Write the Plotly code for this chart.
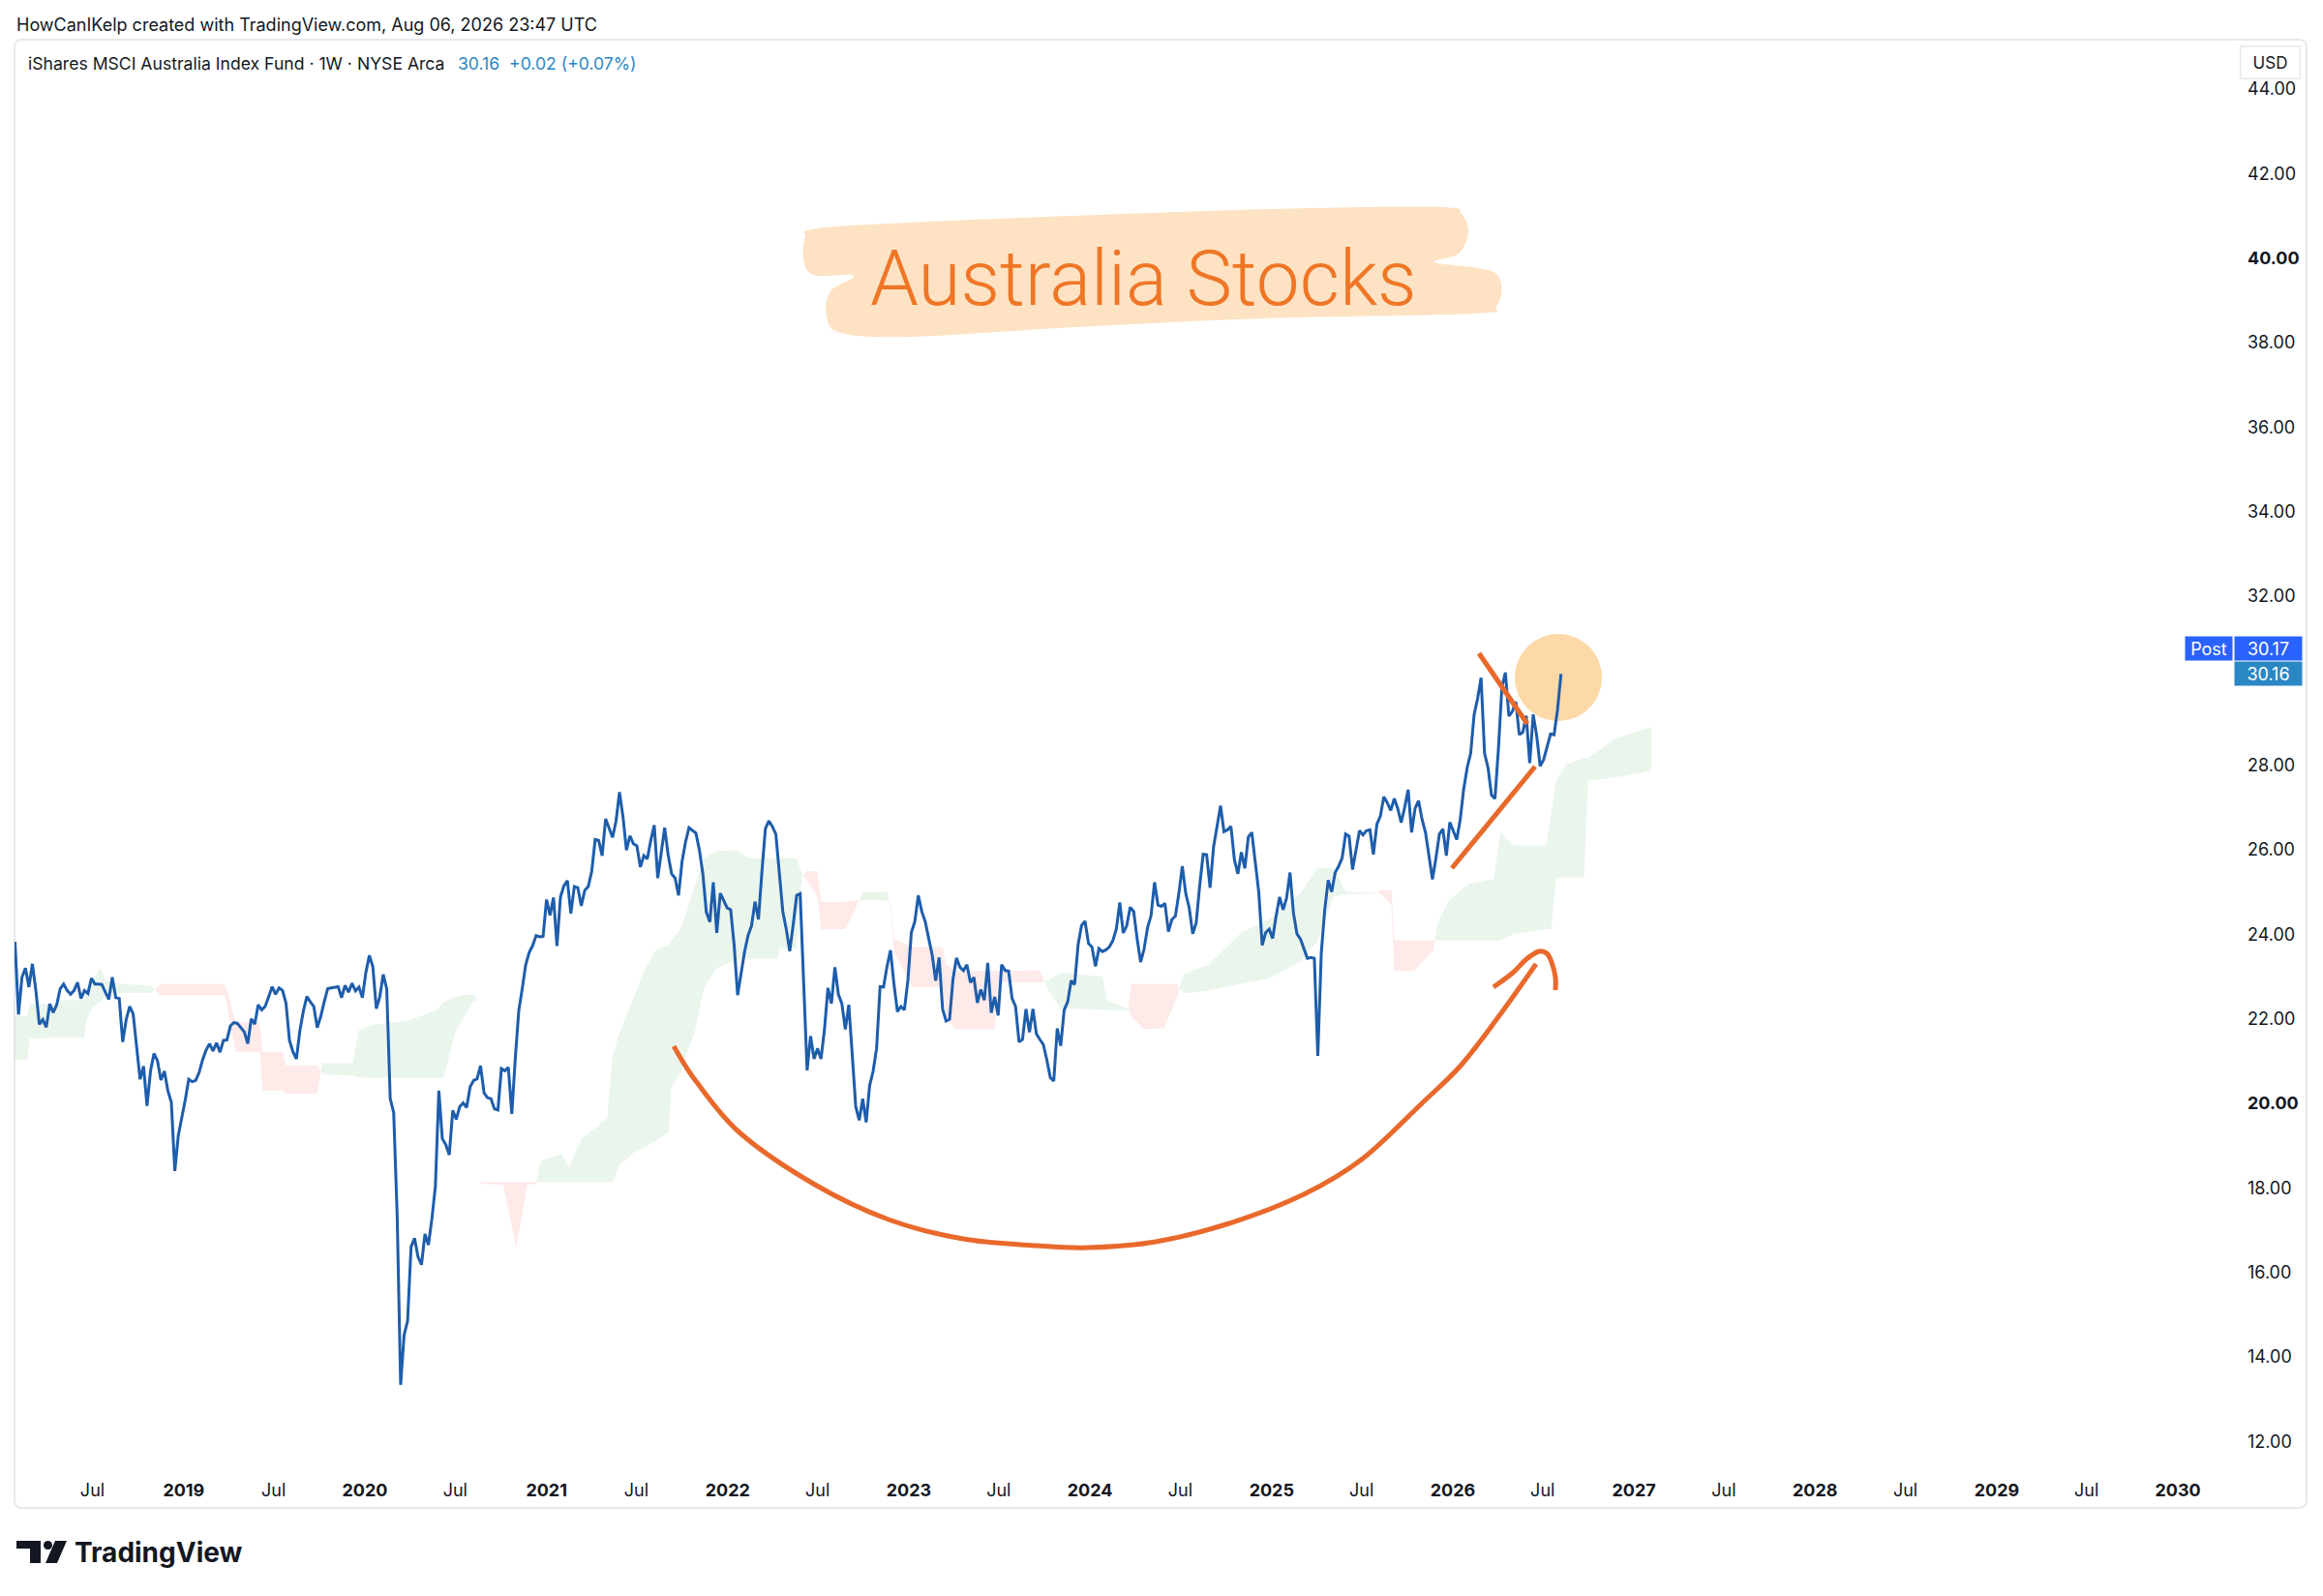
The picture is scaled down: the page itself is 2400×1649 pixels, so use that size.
import pandas as pd
import plotly.graph_objects as go

# ---------------- data ----------------
START = "2018-01-26"          # first weekly bar (Friday close)

closes_2018 = [23.82, 22.10, 22.98, 23.20, 22.75, 23.30, 22.67, 21.87, 21.98, 21.80,
               22.35, 22.15, 22.33, 22.71, 22.82, 22.67, 22.58, 22.67, 22.86, 22.48,
               22.67, 22.60, 22.96, 22.82, 22.82, 22.81, 22.63, 22.46, 22.98, 22.50,
               22.48, 21.45, 21.98, 22.29, 22.12, 21.37, 20.57, 20.88, 19.94, 20.76,
               21.18, 21.01, 20.55, 20.76, 20.30, 20.02, 18.40, 19.24, 19.62]
closes_2019 = [20.08, 20.57, 20.51, 20.54, 20.73, 21.03, 21.26, 21.41, 21.24, 21.43,
               21.21, 21.49, 21.50, 21.83, 21.91, 21.89, 21.79, 21.69, 21.41, 22.00,
               21.87, 22.33, 22.21, 22.29, 22.52, 22.76, 22.58, 22.73, 22.67, 22.37,
               21.49, 21.22, 21.05, 21.72, 22.18, 22.53, 22.40, 22.29, 21.79, 22.06,
               22.40, 22.71, 22.73, 22.75, 22.76, 22.50, 22.79, 22.63, 22.84, 22.66,
               22.75, 22.50]
closes_2020 = [23.10, 23.50, 23.23, 22.24, 22.52, 23.05, 22.71, 20.11, 19.78, 17.36,
               13.34, 14.52, 14.85, 16.60, 16.81, 16.37, 16.18, 16.91, 16.65, 17.27,
               18.03, 20.30, 19.16, 19.02, 18.78, 19.83, 19.62, 19.92, 20.01, 19.90,
               20.39, 20.54, 20.58, 20.89, 20.25, 20.13, 20.11, 19.87, 19.84, 20.82,
               20.77, 20.85, 19.75, 21.06, 22.19, 22.71, 23.28, 23.57, 23.73, 23.97,
               23.94, 23.95]
closes_2021 = [24.82, 24.45, 24.87, 23.72, 24.88, 25.15, 25.27, 24.49, 25.13, 25.10,
               24.67, 25.04, 25.13, 25.49, 26.24, 26.22, 25.86, 26.73, 26.52, 26.29,
               26.68, 27.36, 26.78, 25.99, 26.33, 26.14, 26.09, 25.59, 25.86, 25.78,
               26.22, 26.58, 25.33, 25.95, 26.52, 25.88, 25.43, 25.33, 24.92, 25.72,
               26.18, 26.52, 26.45, 26.39, 25.99, 25.42, 24.52, 24.29, 25.23, 24.03,
               24.97, 24.81, 24.62]
closes_2022 = [24.58, 23.74, 22.56, 23.13, 23.59, 23.97, 24.20, 24.77, 24.35, 25.49,
               26.50, 26.68, 26.55, 26.37, 25.49, 24.54, 24.12, 23.60, 24.23, 24.92,
               24.96, 22.75, 20.78, 21.59, 21.05, 21.30, 21.05, 21.75, 22.73, 22.36,
               23.22, 22.58, 22.36, 21.75, 22.33, 21.14, 19.92, 19.60, 20.11, 19.55,
               20.42, 20.76, 21.30, 22.76, 22.75, 23.24, 23.62, 22.82, 22.17, 22.29,
               22.21, 22.90]
closes_2023 = [24.04, 24.30, 24.92, 24.54, 24.30, 23.90, 23.51, 22.90, 23.45, 22.23,
               21.95, 21.99, 22.94, 23.44, 23.22, 23.14, 23.28, 22.86, 22.98, 22.38,
               22.69, 22.44, 23.32, 22.14, 22.52, 22.08, 23.28, 23.14, 23.13, 22.48,
               22.29, 21.45, 21.51, 22.23, 21.68, 22.23, 21.64, 21.51, 21.39, 21.03,
               20.61, 20.53, 21.77, 21.36, 22.21, 22.40, 22.90, 22.81, 23.75, 24.21,
               24.31, 23.78]
closes_2024 = [23.70, 23.24, 23.66, 23.59, 23.63, 23.70, 23.85, 24.12, 24.75, 24.03,
               24.20, 24.64, 24.54, 23.89, 23.34, 23.65, 24.16, 24.44, 25.23, 24.69,
               24.66, 24.73, 24.06, 24.35, 24.43, 24.96, 25.61, 24.96, 24.62, 24.01,
               24.27, 25.15, 25.89, 25.88, 25.10, 26.07, 26.60, 27.04, 26.43, 26.47,
               26.55, 25.76, 25.43, 25.94, 25.56, 26.30, 26.41, 25.69, 25.00, 23.74,
               24.04, 24.12]
closes_2025 = [23.90, 24.43, 24.88, 24.58, 24.85, 25.46, 24.50, 24.01, 23.89, 23.66,
               23.43, 23.45, 23.43, 21.12, 23.55, 24.58, 25.28, 25.00, 25.46, 25.61,
               25.80, 26.37, 26.32, 25.53, 26.03, 26.45, 26.35, 26.45, 26.47, 25.89,
               26.60, 26.79, 27.25, 27.11, 26.93, 27.21, 26.98, 26.64, 27.00, 27.42,
               26.41, 26.98, 27.16, 26.72, 26.41, 25.80, 25.30, 25.80, 26.37, 26.49,
               25.86, 26.65]
closes_2026 = [26.45, 26.24, 26.72, 27.44, 27.94, 28.28, 29.20, 29.58, 30.07, 28.28,
               27.94, 27.29, 27.21, 28.40, 29.86, 30.19, 29.16, 29.27, 29.50, 28.72,
               28.78, 29.17, 28.05, 29.20, 28.70, 27.98, 28.13, 28.47, 28.74, 28.72,
               29.31, 30.16]

# Ichimoku cloud (leading spans), positions in weeks from START
cloud_week = [0, 3.5, 4.2, 12, 12.1, 19.9, 20.5, 22.5, 24.6, 26, 28, 39, 42, 60.3, 61, 63.5,
              70.5, 71.2, 77, 78, 87, 88.5, 97.2, 98.9, 102.5, 112.8, 121.2, 123.4, 126.8,
              129.6, 132.3, 133.3, 134, 140.5, 144.3, 147.5, 150, 151, 151.9, 157.4, 159.4,
              163, 166.6, 170.5, 172, 174.1, 178.9, 180.6, 184.4, 188.1, 188.9, 191.7, 195.6,
              198.4, 202, 207.6, 211.2, 219.6, 220, 224.9, 226.5, 227.6, 231, 232, 239, 242.5,
              244, 251, 252, 253, 258.3, 267, 268, 270.8, 282, 283, 295, 297.3, 300.9, 313,
              314.3, 320.4, 321.3, 325.2, 330.7, 334.4, 336.3, 343.5, 353, 360.8, 370, 374.8,
              379.5, 383.1, 391.5, 393, 396.2, 397, 402.6, 408.2, 409.5, 412.8, 418.4, 425.6,
              427.6, 431.2, 440.7, 442.2, 443.6, 446.4, 451.6, 452.8, 460.5, 471]
span_a = [22.06, 22.06, 22.35, 22.35, 22.44, 22.44, 22.6, 22.95, 23.21, 22.9,
          22.84, 22.78, 22.56, 22.56, 22.3, 21.22, 21.22, 20.3, 20.3, 20.23,
          20.23, 20.95, 20.95, 21.72, 21.85, 21.95, 22.2, 22.4, 22.52, 22.57,
          22.57, 22.4, 18.1, 18.07, 16.6, 18.07, 18.1, 18.55, 18.66, 18.81,
          18.47, 19.16, 19.39, 19.65, 21.14, 21.68, 22.67, 23.05, 23.62, 23.74,
          23.85, 24.12, 25.11, 25.8, 25.97, 25.99, 25.8, 25.8, 25.8, 25.8,
          25.45, 25.3, 24.9, 24.12, 24.12, 24.7, 25.0, 25.0, 24.6, 23.58,
          22.75, 22.75, 21.98, 21.75, 21.75, 22.86, 22.86, 22.9, 23.09, 23.0,
          22.44, 22.25, 22.06, 21.75, 21.78, 22.5, 23.05, 23.28, 24.04, 24.35,
          24.96, 25.57, 25.57, 25.0, 25.0, 24.96, 24.69, 23.13, 23.13, 23.6,
          24.27, 24.81, 25.19, 25.3, 26.41, 26.1, 26.1, 26.87, 27.63, 28.01,
          28.17, 28.17, 28.62, 28.9]
span_b = [21.03, 21.03, 21.53, 21.56, 21.56, 21.56, 21.95, 22.3, 22.4, 22.58,
          22.61, 22.61, 22.82, 22.82, 22.7, 21.91, 21.91, 21.22, 21.22, 20.9,
          20.9, 20.69, 20.65, 20.62, 20.6, 20.6, 20.6, 20.62, 21.7, 22.1,
          22.45, 22.4, 18.14, 18.14, 18.14, 18.14, 18.14, 18.14, 18.13, 18.13,
          18.13, 18.13, 18.13, 18.13, 18.13, 18.55, 18.89, 18.93, 19.12, 19.31,
          20.38, 20.76, 21.68, 22.75, 23.2, 23.4, 23.43, 23.43, 23.66, 23.66,
          25.35, 25.49, 25.49, 24.77, 24.77, 24.8, 24.8, 24.8, 24.77, 23.89,
          23.7, 23.7, 23.28, 23.13, 23.13, 23.13, 23.15, 22.7, 22.25, 22.21,
          22.21, 22.2, 22.82, 22.82, 22.82, 22.82, 22.6, 22.67, 22.83, 22.95,
          23.36, 23.82, 24.88, 24.95, 24.96, 25.04, 25.04, 23.85, 23.85, 23.85,
          23.85, 23.85, 23.85, 23.85, 23.85, 24.0, 24.12, 24.12, 25.34, 25.34,
          25.34, 27.63, 27.71, 27.87]

x_tick_dates = ["2018-07-01", "2019-01-01", "2019-07-01", "2020-01-01", "2020-07-01",
                "2021-01-01", "2021-07-01", "2022-01-01", "2022-07-01", "2023-01-01",
                "2023-07-01", "2024-01-01", "2024-07-01", "2025-01-01", "2025-07-01",
                "2026-01-01", "2026-07-01", "2027-01-01", "2027-07-01", "2028-01-01",
                "2028-07-01", "2029-01-01", "2029-07-01", "2030-01-01"]
x_tick_text = ["Jul", "<b>2019</b>", "Jul", "<b>2020</b>", "Jul", "<b>2021</b>", "Jul",
               "<b>2022</b>", "Jul", "<b>2023</b>", "Jul", "<b>2024</b>", "Jul",
               "<b>2025</b>", "Jul", "<b>2026</b>", "Jul", "<b>2027</b>", "Jul",
               "<b>2028</b>", "Jul", "<b>2029</b>", "Jul", "<b>2030</b>"]
# the 30.00 level sits under the last-price labels, so it is not listed
y_tick_vals = [12, 14, 16, 18, 20, 22, 24, 26, 28, 32, 34, 36, 38, 40, 42, 44]
y_tick_text = ["<b>%.2f</b>" % v if v in (20, 40) else "%.2f" % v for v in y_tick_vals]

last_close = 30.16
post_price = 30.17
change_text = "+0.02 (+0.07%)"

# ---------------- styling ----------------
FONT = "Inter, Roboto, sans-serif"
TXT = "#131722"
LINE = "#1d5dac"
GREEN = "rgba(67,160,71,0.11)"
RED = "rgba(244,67,54,0.11)"
ORANGE = "#e8692b"
W, H = 2400, 1649
L, R, T, B = 15, 2307, 41, 1517


def px(x):
    return (x - L) / (R - L)


def py(y):
    return (B - y) / (B - T)


def smooth_path(points, closed=False):
    pts = [(px(x), py(y)) for x, y in points]
    n = len(pts)
    ext = ([pts[-1]] + pts + pts[:2]) if closed else ([pts[0]] + pts + [pts[-1]])
    d = "M%.5f,%.5f" % pts[0]
    segs = n if closed else n - 1
    for i in range(segs):
        p0, p1, p2, p3 = ext[i], ext[i + 1], ext[i + 2], ext[i + 3]
        c1 = (p1[0] + (p2[0] - p0[0]) / 6, p1[1] + (p2[1] - p0[1]) / 6)
        c2 = (p2[0] - (p3[0] - p1[0]) / 6, p2[1] - (p3[1] - p1[1]) / 6)
        d += " C%.5f,%.5f %.5f,%.5f %.5f,%.5f" % (c1 + c2 + p2)
    if closed:
        d += " Z"
    return d


start = pd.Timestamp(START)
closes = (closes_2018 + closes_2019 + closes_2020 + closes_2021 + closes_2022 +
          closes_2023 + closes_2024 + closes_2025 + closes_2026)
dates = pd.date_range(START, periods=len(closes), freq="7D")


def wdate(w):
    return start + pd.to_timedelta(w * 7, unit="D")


# ---- cloud polygons (split where the spans cross) ----
trip = list(zip(cloud_week, span_a, span_b))
pts = [trip[0]]
for (w0, a0, b0), (w1, a1, b1) in zip(trip[:-1], trip[1:]):
    d0, d1 = a0 - b0, a1 - b1
    if d0 * d1 < 0:
        t = d0 / (d0 - d1)
        wc, vc = w0 + t * (w1 - w0), a0 + t * (a1 - a0)
        pts.append((wc, vc, vc))
    pts.append((w1, a1, b1))

runs = []
for p, q in zip(pts[:-1], pts[1:]):
    s = (p[1] - p[2]) + (q[1] - q[2]) >= 0
    if runs and runs[-1][0] == s:
        runs[-1][1].append(q)
    else:
        runs.append([s, [p, q]])

fig = go.Figure()
for s, seg in runs:
    xs = [wdate(w) for w, _, _ in seg] + [wdate(w) for w, _, _ in seg[::-1]]
    ys = [a for _, a, _ in seg] + [b for _, _, b in seg[::-1]]
    fig.add_trace(go.Scatter(x=xs, y=ys, mode="lines", line=dict(width=0),
                             fill="toself", fillcolor=GREEN if s else RED,
                             hoverinfo="skip", showlegend=False))

fig.add_trace(go.Scatter(x=dates, y=closes, mode="lines",
                         line=dict(color=LINE, width=3), hoverinfo="skip",
                         showlegend=False))

# ---------------- drawings ----------------
shapes = []
# chart frame
r = 8
fx0, fx1, fy0, fy1 = 15, 2383, 41, 1558
frame = ("M%.5f,%.5f L%.5f,%.5f Q%.5f,%.5f %.5f,%.5f L%.5f,%.5f Q%.5f,%.5f %.5f,%.5f "
         "L%.5f,%.5f Q%.5f,%.5f %.5f,%.5f L%.5f,%.5f Q%.5f,%.5f %.5f,%.5f Z") % (
    px(fx0 + r), py(fy0), px(fx1 - r), py(fy0), px(fx1), py(fy0), px(fx1), py(fy0 + r),
    px(fx1), py(fy1 - r), px(fx1), py(fy1), px(fx1 - r), py(fy1),
    px(fx0 + r), py(fy1), px(fx0), py(fy1), px(fx0), py(fy1 - r),
    px(fx0), py(fy0 + r), px(fx0), py(fy0), px(fx0 + r), py(fy0))
shapes.append(dict(type="path", xref="paper", yref="paper", path=frame,
                   line=dict(color="#e6e8ee", width=2), layer="below"))

# peach circle (under the line)
cx, cy, cr = 1610, 700, 45
shapes.append(dict(type="circle", xref="paper", yref="paper", x0=px(cx - cr), x1=px(cx + cr),
                   y0=py(cy + cr), y1=py(cy - cr), fillcolor="#fdd9a8",
                   line=dict(width=0), layer="below"))

# highlighter stroke behind the title
hl = [(839, 237), (917, 231), (1160, 221), (1354, 215), (1490, 214), (1510, 221),
      (1517, 240), (1507, 262), (1482, 271), (1538, 279), (1551, 294), (1546, 316),
      (1522, 324), (1305, 329), (1111, 338), (941, 348), (869, 344), (854, 326),
      (858, 301), (882, 285), (840, 284), (830, 266), (832, 245)]
shapes.append(dict(type="path", xref="paper", yref="paper", path=smooth_path(hl, True),
                   fillcolor="#fde3c3", line=dict(width=0), layer="above"))

# big rounded arc
arc = [(696, 1081), (719, 1117), (765, 1171), (842, 1224), (918, 1260), (995, 1280),
       (1071, 1287), (1125, 1289), (1194, 1283), (1270, 1264), (1347, 1234),
       (1408, 1197), (1469, 1140), (1510, 1100), (1550, 1048), (1587, 996)]
shapes.append(dict(type="path", xref="paper", yref="paper", path=smooth_path(arc),
                   line=dict(color=ORANGE, width=5), layer="above"))
hook = [(1543, 1020), (1563, 1005), (1577, 991), (1590, 983), (1598, 985),
        (1603, 994), (1607, 1010), (1607, 1023)]
shapes.append(dict(type="path", xref="paper", yref="paper", path=smooth_path(hook),
                   line=dict(color=ORANGE, width=5), layer="above"))
# trend lines
shapes.append(dict(type="line", xref="paper", yref="paper", x0=px(1500), y0=py(897),
                   x1=px(1586), y1=py(792), line=dict(color=ORANGE, width=5)))
shapes.append(dict(type="line", xref="paper", yref="paper", x0=px(1528), y0=py(675),
                   x1=px(1578), y1=py(748), line=dict(color=ORANGE, width=5)))

# TradingView logo glyph
shapes.append(dict(type="rect", xref="paper", yref="paper", x0=px(17), x1=px(42),
                   y0=py(1600), y1=py(1592), fillcolor=TXT, line=dict(width=0)))
shapes.append(dict(type="rect", xref="paper", yref="paper", x0=px(31), x1=px(42),
                   y0=py(1615), y1=py(1592), fillcolor=TXT, line=dict(width=0)))
shapes.append(dict(type="circle", xref="paper", yref="paper", x0=px(45), x1=px(54),
                   y0=py(1601), y1=py(1592), fillcolor=TXT, line=dict(width=0)))
shapes.append(dict(type="path", xref="paper", yref="paper",
                   path="M%.5f,%.5f L%.5f,%.5f L%.5f,%.5f L%.5f,%.5f Z" % (
                       px(57), py(1592), px(69), py(1592), px(59), py(1615), px(47), py(1615)),
                   fillcolor=TXT, line=dict(width=0)))

# ---------------- annotations ----------------
ann = []
ann.append(dict(xref="paper", yref="paper", x=px(15), y=py(26), xanchor="left",
                yanchor="middle", showarrow=False,
                text="HowCanIKelp created with TradingView.com, Aug 06, 2026 23:47 UTC",
                font=dict(family=FONT, size=18, color=TXT)))
ann.append(dict(xref="paper", yref="paper", x=px(27), y=py(66), xanchor="left",
                yanchor="middle", showarrow=False,
                text="iShares MSCI Australia Index Fund · 1W · NYSE Arca",
                font=dict(family=FONT, size=17.6, color=TXT)))
ann.append(dict(xref="paper", yref="paper", x=px(471), y=py(66), xanchor="left",
                yanchor="middle", showarrow=False,
                text="%.2f\u00a0\u00a0%s" % (last_close, change_text),
                font=dict(family=FONT, size=17.6, color="#2b87c4")))
ann.append(dict(xref="paper", yref="paper", x=px(2346), y=py(65), xanchor="center",
                yanchor="middle", showarrow=False, text="USD",
                font=dict(family=FONT, size=17, color=TXT), bgcolor="white",
                bordercolor="#e6e8ee", borderwidth=1.5, borderpad=4, width=52, height=24))
ann.append(dict(xref="paper", yref="y", x=px(2343), y=last_close, xanchor="center",
                yanchor="middle", showarrow=False, text="%.2f" % last_close,
                font=dict(family=FONT, size=18, color="white"), bgcolor="#2b87c4",
                borderpad=2, width=65, height=20))
ann.append(dict(xref="paper", yref="y", x=px(2343), y=last_close, yshift=26,
                xanchor="center", yanchor="middle", showarrow=False,
                text="%.2f" % post_price,
                font=dict(family=FONT, size=18, color="white"), bgcolor="#2962ff",
                borderpad=2, width=65, height=20))
ann.append(dict(xref="paper", yref="y", x=px(2282), y=last_close, yshift=26,
                xanchor="center", yanchor="middle", showarrow=False, text="Post",
                font=dict(family=FONT, size=18, color="white"), bgcolor="#2962ff",
                borderpad=2, width=44, height=20))
ann.append(dict(xref="paper", yref="paper", x=px(1181), y=py(288), xanchor="center",
                yanchor="middle", showarrow=False, text="Australia Stocks",
                font=dict(family="Roboto, sans-serif", weight=300, size=80,
                          color="#ef7626")))
ann.append(dict(xref="paper", yref="paper", x=px(75), y=py(1604), xanchor="left",
                yanchor="middle", showarrow=False, text="<b>TradingView</b>",
                font=dict(family=FONT, size=28, color=TXT)))

fig.update_layout(
    width=W, height=H, margin=dict(l=L, r=W - R, t=T, b=H - B),
    paper_bgcolor="white", plot_bgcolor="white", showlegend=False,
    xaxis=dict(type="date", range=["2018-01-25", "2030-04-22"], tickvals=x_tick_dates,
               ticktext=x_tick_text, showgrid=False, zeroline=False, showline=False,
               ticks="", tickfont=dict(family=FONT, size=18, color=TXT),
               ticklabelstandoff=10, fixedrange=True),
    yaxis=dict(range=[11.366, 45.165], side="right", tickvals=y_tick_vals,
               ticktext=y_tick_text, showgrid=False, zeroline=False, showline=False,
               ticks="", tickfont=dict(family=FONT, size=18, color=TXT),
               ticklabelstandoff=14, fixedrange=True),
    shapes=shapes, annotations=ann,
)

fig.write_html("out.html", config={"displayModeBar": False},
               post_script="document.body.style.margin='0';")
